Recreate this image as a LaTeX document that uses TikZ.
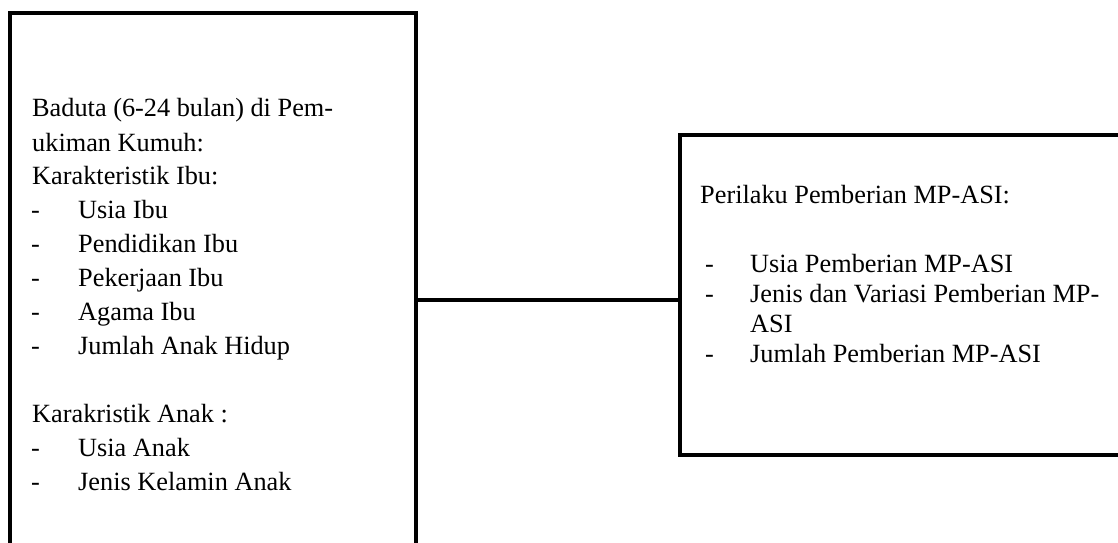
\documentclass[tikz,border=0pt]{standalone}
\usepackage{fontspec}
\setmainfont{Liberation Serif}
\begin{document}
\begin{tikzpicture}[x=1pt,y=-1pt,
  box/.style={draw,line width=3.2pt,rectangle,inner sep=0pt},
  conn/.style={draw,line width=3.2pt},
  txt/.style={anchor=base west,inner sep=0pt,font=\fontsize{26.3}{30}\selectfont}]
\useasboundingbox (0,0) rectangle (1118,542);
\clip (0,0) rectangle (1118,542);
\fill[white] (0,0) rectangle (1118,542);
% boxes
\node[box,minimum width=406pt,minimum height=574pt] (left) at (213,300) {};
\node[box,minimum width=450pt,minimum height=320pt] (right) at (905,295) {};
\draw[conn] (left.east) -- (left.east -| right.west);
% left texts
\node[txt] (l1) at (32,116) {Baduta (6-24 bulan) di Pem-};
\node[txt] (l2) at (32,151) {ukiman Kumuh:};
\node[txt] (l3) at (32,184) {Karakteristik Ibu:};
\node[txt] (d4) at (31,218) {-};
\node[txt] (l4) at (78,218) {Usia Ibu};
\node[txt] (d5) at (31,252) {-};
\node[txt] (l5) at (78,252) {Pendidikan Ibu};
\node[txt] (d6) at (31,286) {-};
\node[txt] (l6) at (78,286) {Pekerjaan Ibu};
\node[txt] (d7) at (31,320) {-};
\node[txt] (l7) at (78,320) {Agama Ibu};
\node[txt] (d8) at (31,354) {-};
\node[txt] (l8) at (78,354) {Jumlah Anak Hidup};
\node[txt] (l9) at (32,422) {Karakristik Anak :};
\node[txt] (d10) at (31,456) {-};
\node[txt] (l10) at (78,456) {Usia Anak};
\node[txt] (d11) at (31,490) {-};
\node[txt] (l11) at (78,490) {Jenis Kelamin Anak};
% right texts
\node[txt] (r1) at (700,203) {Perilaku Pemberian MP-ASI:};
\node[txt] (e2) at (705,272) {-};
\node[txt] (r2) at (750,272) {Usia Pemberian MP-ASI};
\node[txt] (e3) at (705,302) {-};
\node[txt] (r3) at (750,302) {Jenis dan Variasi Pemberian MP-};
\node[txt] (r4) at (750,332) {ASI};
\node[txt] (e5) at (705,362) {-};
\node[txt] (r5) at (750,362) {Jumlah Pemberian MP-ASI};
\end{tikzpicture}
\end{document}
